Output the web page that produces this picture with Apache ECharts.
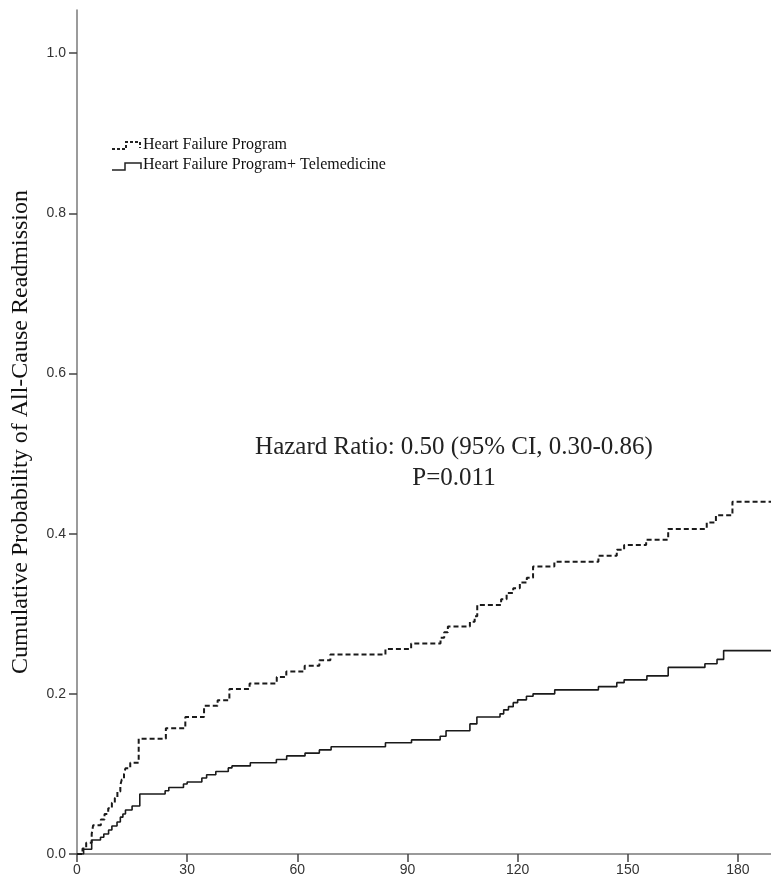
<!DOCTYPE html>
<html>
<head>
<meta charset="utf-8">
<title>Cumulative Probability of All-Cause Readmission</title>
<script src="https://cdn.jsdelivr.net/npm/echarts@6/dist/echarts.min.js"></script>
<style>
  html, body { margin: 0; padding: 0; background: #fff; }
  #chart { width: 771px; height: 883px; }
</style>
</head>
<body>
<div id="chart"></div>
<script>
// tick labels
var xTicks = [0, 30, 60, 90, 120, 150, 180]
var yTicks = [0, 0.2, 0.4, 0.6, 0.8, 1.0]

// Heart Failure Program (dashed)
var hfDays = [0, 1.5, 2.5, 4, 4.4, 6.5, 7.5, 8.5, 9.5, 10.3, 11, 11.8, 12.2, 12.8, 13.2, 14.5, 16.8,
  24.2, 29.5, 34.6, 38.3, 41.5, 47, 54.4, 57, 62, 66, 69, 84, 91, 99, 100, 101, 107, 108.3, 109,
  115.5, 117, 118.8, 120.6, 122.5, 124.2, 130, 142, 147, 149, 155, 161, 171.5, 174, 178.5, 189]
var hfProb = [0, 0.007, 0.014, 0.025, 0.036, 0.043, 0.05, 0.057, 0.064, 0.07, 0.078, 0.086, 0.093, 0.1, 0.107, 0.114, 0.144,
  0.157, 0.171, 0.185, 0.192, 0.206, 0.213, 0.221, 0.228, 0.235, 0.242, 0.249, 0.256, 0.263, 0.27, 0.277, 0.284, 0.29, 0.297, 0.311,
  0.318, 0.326, 0.332, 0.339, 0.345, 0.359, 0.365, 0.3725, 0.38, 0.386, 0.3925, 0.406, 0.414, 0.423, 0.44, 0.44]

// Heart Failure Program + Telemedicine (solid)
var teleDays = [0, 1.8, 4, 6.4, 7.3, 8.6, 9.5, 10.9, 11.8, 12.5, 13.2, 15, 17.1, 24, 25, 29, 30, 34, 35.3,
  37.8, 41.2, 42.2, 47.2, 54.3, 57.1, 62.1, 66, 69.2, 84, 91.1, 98.9, 100.5, 107, 108.9, 115.2, 116.2,
  117.5, 118.8, 120, 122.4, 124.2, 130.1, 142, 147, 149, 155.2, 161, 171, 174.3, 176.1, 189]
var teleProb = [0, 0.006, 0.0175, 0.021, 0.025, 0.03, 0.035, 0.04, 0.046, 0.05, 0.055, 0.06, 0.075, 0.079, 0.083, 0.0875, 0.09, 0.095, 0.099,
  0.103, 0.1075, 0.11, 0.114, 0.118, 0.1225, 0.126, 0.13, 0.134, 0.139, 0.1425, 0.147, 0.154, 0.1625, 0.171, 0.175, 0.18,
  0.184, 0.189, 0.1925, 0.197, 0.2, 0.205, 0.209, 0.214, 0.2175, 0.2225, 0.233, 0.2375, 0.243, 0.254, 0.254]

var seriesNames = ['Heart Failure Program', 'Heart Failure Program+ Telemedicine']

function pairs(xs, ys) {
  return xs.map(function (x, i) { return [x, ys[i]] })
}

var myChart = echarts.init(document.getElementById('chart'))

var axisColor = '#7a7a7a'
var serif = '"Liberation Serif", "DejaVu Serif", serif'

var option = {
  animation: false,
  backgroundColor: '#fff',
  grid: { left: 77, right: 0, top: 10, bottom: 29, containLabel: false, outerBoundsMode: 'none' },
  xAxis: {
    type: 'value',
    min: 0,
    max: 189,
    interval: 30,
    axisLine: { lineStyle: { color: axisColor, width: 1.5 } },
    axisTick: { customValues: xTicks, length: 8, lineStyle: { color: '#444', width: 1.5 } },
    axisLabel: {
      customValues: xTicks,
      margin: 9,
      color: '#333',
      fontSize: 14,
      fontFamily: '"Liberation Sans", Arial, sans-serif'
    },
    splitLine: { show: false }
  },
  yAxis: {
    type: 'value',
    min: 0,
    max: 1.054,
    interval: 0.2,
    name: 'Cumulative Probability of All-Cause Readmission',
    nameLocation: 'middle',
    nameGap: 44,
    nameTextStyle: { fontFamily: serif, fontSize: 24, color: '#111' },
    axisLine: { show: true, lineStyle: { color: axisColor, width: 1.5 } },
    axisTick: { show: true, inside: false, customValues: yTicks, length: 8, lineStyle: { color: '#444', width: 1.5 } },
    axisLabel: {
      customValues: yTicks,
      margin: 11,
      color: '#333',
      fontSize: 14,
      fontFamily: '"Liberation Sans", Arial, sans-serif',
      formatter: function (v) { return v.toFixed(1) }
    },
    splitLine: { show: false }
  },
  series: [
    {
      name: seriesNames[0],
      type: 'line',
      step: 'end',
      showSymbol: false,
      data: pairs(hfDays, hfProb),
      lineStyle: { color: '#1a1a1a', width: 2, type: [5, 3] }
    },
    {
      name: seriesNames[1],
      type: 'line',
      step: 'end',
      showSymbol: false,
      data: pairs(teleDays, teleProb),
      lineStyle: { color: '#1a1a1a', width: 1.6 }
    }
  ],
  graphic: [
    // legend
    {
      type: 'polyline',
      shape: { points: [[112, 149], [126, 149], [126, 142], [140, 142], [140, 148]] },
      style: { stroke: '#222', lineWidth: 2, lineDash: [3, 2], fill: null }
    },
    {
      type: 'text',
      left: 143,
      top: 137,
      style: { text: seriesNames[0], font: '16px ' + serif, fill: '#111' }
    },
    {
      type: 'polyline',
      shape: { points: [[112, 170], [125, 170], [125, 163], [141, 163], [141, 169]] },
      style: { stroke: '#222', lineWidth: 1.5, fill: null }
    },
    {
      type: 'text',
      left: 143,
      top: 157,
      style: { text: seriesNames[1], font: '16px ' + serif, fill: '#111' }
    },
    // hazard ratio note
    {
      type: 'text',
      x: 454,
      y: 463,
      style: {
        text: 'Hazard Ratio: 0.50 (95% CI, 0.30-0.86)\nP=0.011',
        font: '25px ' + serif,
        fill: '#222',
        align: 'center',
        verticalAlign: 'middle',
        lineHeight: 31
      }
    }
  ]
}

myChart.setOption(option)
window.onresize = function () {
  myChart.resize()
}
</script>
</body>
</html>
